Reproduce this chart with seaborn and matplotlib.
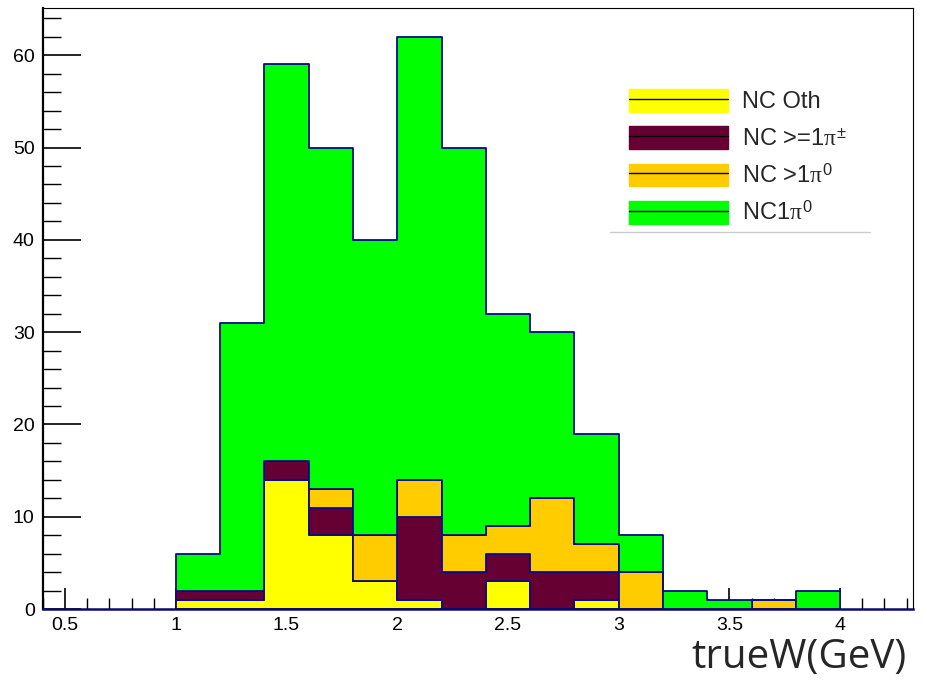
import numpy as np
import pandas as pd
import matplotlib
matplotlib.use("Agg")
import matplotlib.pyplot as plt
import seaborn as sns
from matplotlib.patches import Patch
from matplotlib.lines import Line2D
from matplotlib.ticker import MultipleLocator

# Bin edges (GeV) and counts per category
bin_edges = [1.0, 1.2, 1.4, 1.6, 1.8, 2.0, 2.2, 2.4, 2.6, 2.8, 3.0, 3.2, 3.4, 3.6, 3.8, 4.0]
nc_oth = [1, 1, 14, 8, 3, 1, 0, 3, 0, 1, 0, 0, 0, 0, 0]
nc_pipm = [1, 1, 2, 3, 0, 9, 4, 3, 4, 3, 0, 0, 0, 0, 0]
nc_gt1pi0 = [0, 0, 0, 2, 5, 4, 4, 3, 8, 3, 4, 0, 0, 1, 0]
nc_1pi0 = [4, 29, 43, 37, 32, 48, 42, 23, 18, 12, 4, 2, 1, 0, 2]

labels = ["NC Oth", r"NC >=1$\pi^{\pm}$", r"NC >1$\pi^{0}$", r"NC1$\pi^{0}$"]
colors = ["#ffff00", "#660033", "#ffcc00", "#00ff00"]

centers = [(a + b) / 2 for a, b in zip(bin_edges[:-1], bin_edges[1:])]
rows = []
for lab, vals in zip(labels, [nc_oth, nc_pipm, nc_gt1pi0, nc_1pi0]):
    for c, v in zip(centers, vals):
        rows.append({"W": c, "n": v, "cat": lab})
df = pd.DataFrame(rows)

sns.set_style("white")
plt.rcParams['font.family'] = ['Liberation Sans', 'DejaVu Sans']
plt.rcParams['mathtext.fontset'] = 'custom'
plt.rcParams['mathtext.rm'] = 'Liberation Sans'
plt.rcParams['mathtext.it'] = 'Liberation Serif'

fig = plt.figure(figsize=(9.28, 6.82), dpi=100)
ax = fig.add_axes([0.0463, 0.107, 0.9377, 0.881])

sns.histplot(data=df, x="W", weights="n", hue="cat", hue_order=labels[::-1],
             multiple="stack", bins=bin_edges, element="step",
             palette=dict(zip(labels, colors)), alpha=1, edgecolor="#0a0a8c",
             linewidth=1.3, legend=False, ax=ax)

ax.set_xlim(0.4, 4.33)
ax.set_ylim(0, 65.1)
ax.set_xlabel("")
ax.set_ylabel("")

ax.xaxis.set_major_locator(MultipleLocator(0.5))
ax.xaxis.set_minor_locator(MultipleLocator(0.1))
ax.yaxis.set_major_locator(MultipleLocator(10))
ax.yaxis.set_minor_locator(MultipleLocator(2))
ax.set_xticks([0.5, 1, 1.5, 2, 2.5, 3, 3.5, 4])
ax.set_xticklabels(["0.5", "1", "1.5", "2", "2.5", "3", "3.5", "4"])
ax.tick_params(axis="both", which="both", direction="in", labelsize=14,
               colors="black", bottom=True, left=True, top=False, right=False)
ax.tick_params(axis="y", which="major", length=27, width=1.2, pad=6)
ax.tick_params(axis="y", which="minor", length=13, width=1)
ax.tick_params(axis="x", which="major", length=15, width=1.2, pad=6)
ax.tick_params(axis="x", which="minor", length=8, width=1)

for side in ["top", "right"]:
    ax.spines[side].set_linewidth(0.8)
    ax.spines[side].set_color("black")
ax.spines["left"].set_linewidth(1.6)
ax.spines["left"].set_color("black")
ax.spines["bottom"].set_linewidth(1.8)
ax.spines["bottom"].set_color("#0a0a6e")

handles = [(Patch(facecolor=c, edgecolor=c), Line2D([], [], color="black", lw=1))
           for c in colors]
leg = ax.legend(handles, labels, loc="upper left", bbox_to_anchor=(0.646, 0.905),
                fontsize=17, frameon=True, handlelength=4.2, handleheight=1.1,
                labelspacing=0.55, handletextpad=0.6, borderpad=1.0, borderaxespad=0,
                fancybox=False)
leg.get_frame().set_edgecolor("white")

# light grey rule under the legend box
fig.canvas.draw()
bb = leg.get_window_extent().transformed(fig.transFigure.inverted())
y_rule = bb.y0 + 17 / 682
fig.add_artist(Line2D([bb.x0 + 5 / 928, bb.x1], [y_rule, y_rule], color="#cccccc", lw=1,
                      transform=fig.transFigure))

fig.text(0.977, 0.006, "trueW(GeV)", ha="right", va="bottom", fontsize=29,
         family=["Open Sans", "DejaVu Sans"])

fig.savefig("out.png", dpi=100)
